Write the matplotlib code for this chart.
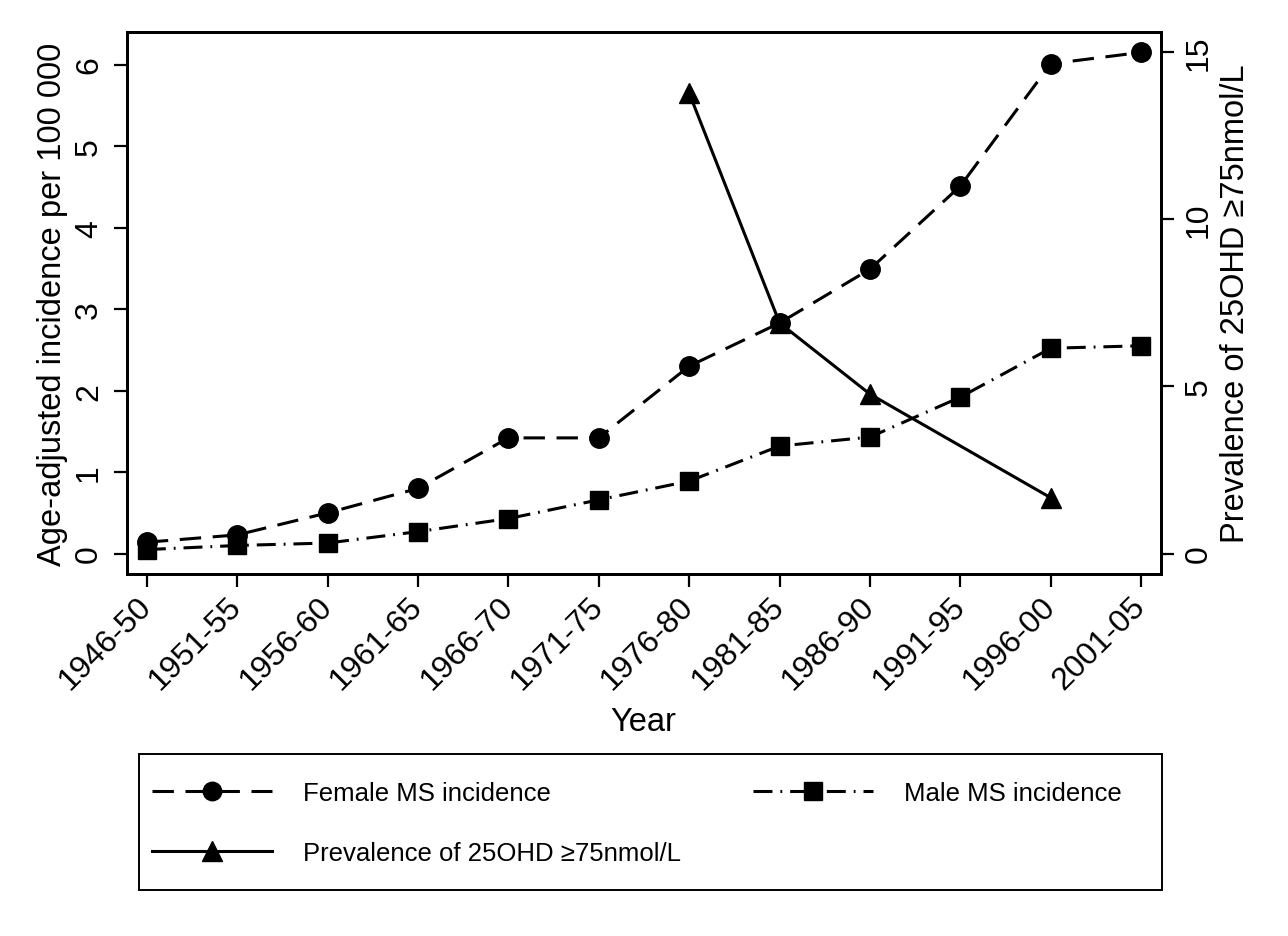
import numpy as np
import matplotlib
matplotlib.use("Agg")
import matplotlib.pyplot as plt
from matplotlib.patches import Rectangle

plt.rcParams['font.family'] = ['Liberation Sans', 'DejaVu Sans']

periods = ["1946-50", "1951-55", "1956-60", "1961-65", "1966-70", "1971-75",
           "1976-80", "1981-85", "1986-90", "1991-95", "1996-00", "2001-05"]
female = [0.14, 0.23, 0.50, 0.80, 1.42, 1.42, 2.30, 2.83, 3.49, 4.51, 6.01, 6.15]
male = [0.05, 0.10, 0.13, 0.27, 0.43, 0.66, 0.89, 1.32, 1.43, 1.92, 2.52, 2.55]
prev_periods = ["1976-80", "1981-85", "1986-90", "1996-00"]
prevalence = [13.77, 6.9, 4.77, 1.67]

left_ticks = [0, 1, 2, 3, 4, 5, 6]
right_ticks = [0, 5, 10, 15]

W, H = 1288, 937
fig = plt.figure(figsize=(W / 100, H / 100), dpi=100)
ax_l, ax_r, ax_t, ax_b = 127, 1161, 33, 575
aw, ah = ax_r - ax_l, ax_b - ax_t
ax = fig.add_axes([ax_l / W, 1 - ax_b / H, aw / W, ah / H])
ax2 = ax.twinx()

x = np.arange(len(periods))
xp = [periods.index(p) for p in prev_periods]

lw = 2.2
f_line, = ax.plot(x, female, color='black', lw=lw, linestyle=(0, (7, 3.8)),
                  marker='o', markersize=14, label='Female MS incidence')
m_line, = ax.plot(x, male, color='black', lw=lw, linestyle=(0, (6.2, 2.6, 0.6, 2.6)),
                  marker='s', markersize=13.5, label='Male MS incidence')
p_line, = ax2.plot(xp, prevalence, color='black', lw=lw, linestyle='-',
                   marker='^', markersize=15, label='Prevalence of 25OHD \u226575nmol/L')

ax.set_xlim(-0.22, 11.22)
ax.set_ylim(-0.25, 6.40)
ax2.set_ylim(-0.61, 15.6)

ax.set_xticks(x)
ax.set_xticklabels(periods, rotation=45, ha='right', va='center', rotation_mode='anchor')
ax.set_yticks(left_ticks)
ax.set_yticklabels([str(t) for t in left_ticks], rotation=90, va='center')
ax2.set_yticks(right_ticks)
ax2.set_yticklabels([str(t) for t in right_ticks], rotation=90, va='center')

for a in (ax, ax2):
    a.tick_params(axis='both', direction='out', length=9.5, width=1.6, labelsize=23,
                  colors='black', pad=7)
    for s in a.spines.values():
        s.set_linewidth(2.1)
ax.tick_params(axis='x', pad=10)

ax.set_xlabel('Year', fontsize=23.5)
ax.xaxis.set_label_coords((643 - ax_l) / aw, (ax_b - 707) / ah)
ax.set_ylabel('Age-adjusted incidence per 100 000', fontsize=23.5)
ax.yaxis.set_label_coords((68 - ax_l) / aw, 0.5)
ax2.set_ylabel('Prevalence of 25OHD \u226575nmol/L', fontsize=23.5)
ax2.yaxis.set_label_coords((1220 - ax_l) / aw, 0.5)

# legend
box_l, box_r, box_t, box_b = 139, 1162, 755, 891
fig.patches.append(Rectangle((box_l / W, 1 - box_b / H), (box_r - box_l) / W,
                             (box_b - box_t) / H, transform=fig.transFigure,
                             fill=False, edgecolor='black', linewidth=1.4))
leg = fig.legend(handles=[f_line, p_line, m_line], ncol=2, mode='expand', frameon=False,
                 bbox_to_anchor=(152 / W, 1 - 886 / H, (1122 - 152) / W, (886 - 762) / H),
                 loc='center', fontsize=18.5, handlelength=4.67, handletextpad=1.2,
                 labelspacing=1.38, borderpad=0, borderaxespad=0, markerscale=0.95)

fig.savefig('out.png', dpi=100, facecolor='white')
